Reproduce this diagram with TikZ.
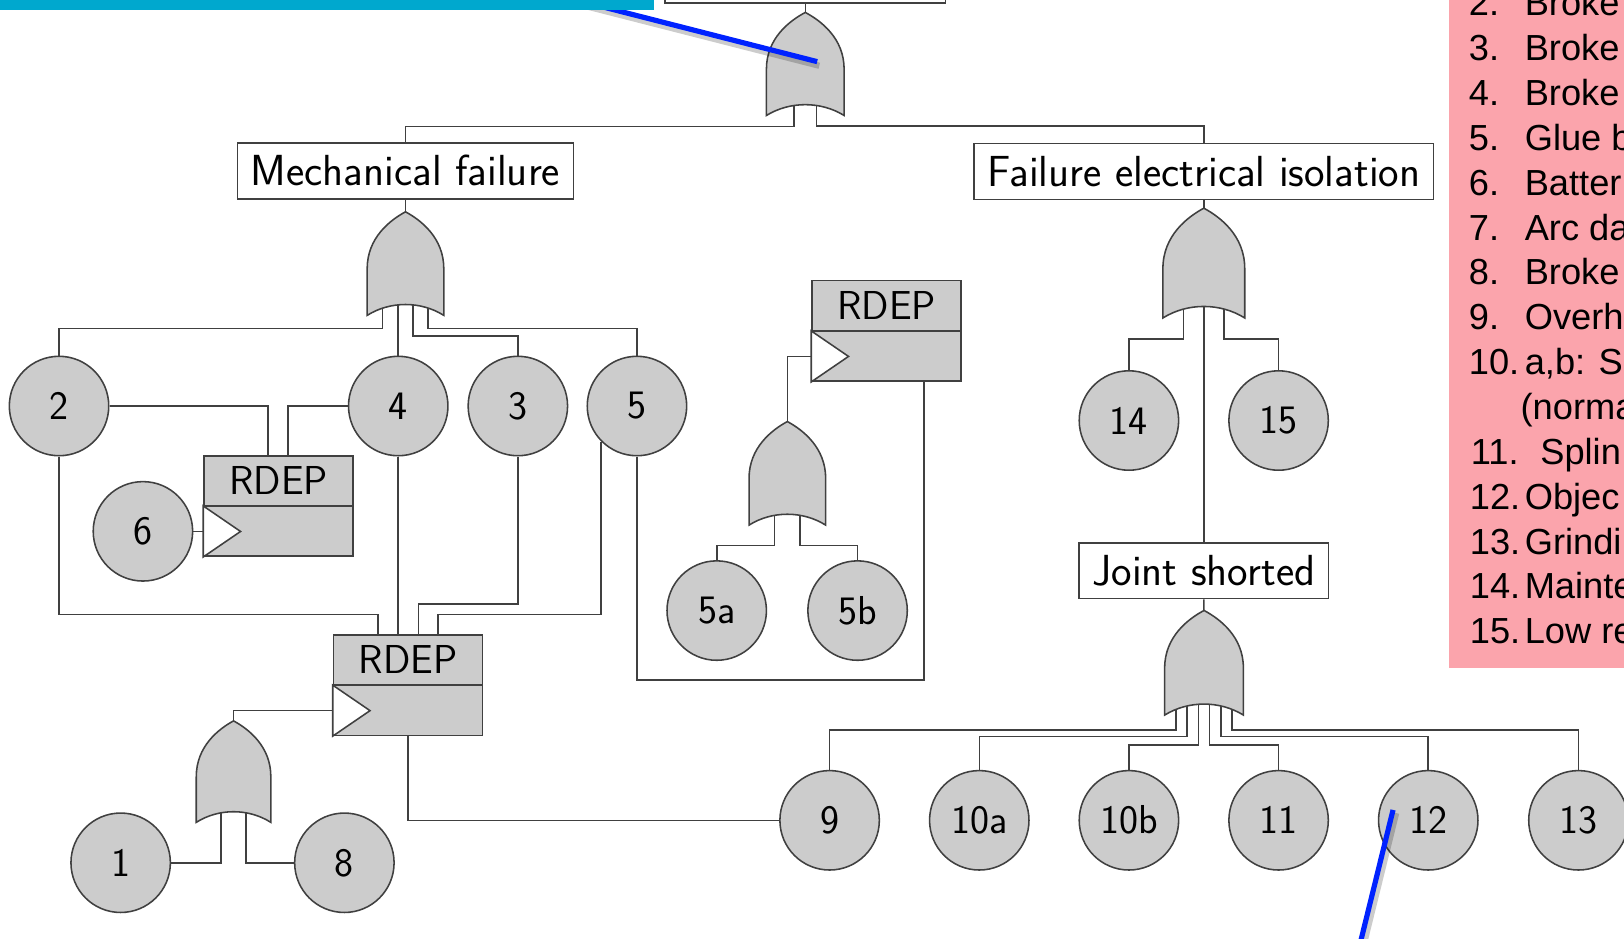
\documentclass[tikz,border=0pt]{standalone}
\usepackage{fontspec}
\newfontfamily\arialf{Liberation Sans}
\usetikzlibrary{calc}
\pgfdeclarelayer{bg}
\pgfsetlayers{bg,main}
\definecolor{linec}{RGB}{64,64,64}
\definecolor{gfill}{RGB}{204,204,204}
\definecolor{cyanbar}{RGB}{0,168,206}
\definecolor{pinkbox}{RGB}{251,164,172}
\definecolor{blueline}{RGB}{0,34,255}
\newcommand\evfont{\sffamily\fontsize{39}{44}\selectfont}
\newcommand\lbfont{\sffamily\fontsize{42}{46}\selectfont}
\newcommand\orgate[5]{%
  \begin{scope}[shift={(#2,#3)}]
  \path[gatestyle] ({-#4/2},0) -- ({-#4/2},{-0.45*#5})
     .. controls ({-#4/2},{-0.75*#5}) and ({-0.2*#4},{-0.92*#5}) .. (0,{-#5})
     .. controls ({0.2*#4},{-0.92*#5}) and ({#4/2},{-0.75*#5}) .. ({#4/2},{-0.45*#5})
     -- ({#4/2},0) .. controls ({0.2*#4},{-0.14*#5}) and ({-0.2*#4},{-0.14*#5}) .. cycle;
  \coordinate (#1) at (0,0);
  \coordinate (#1t) at (0,{-#5+4});
  \end{scope}}
\newcommand\rdepbox[3]{%
  \node[rdep] (#1) at (#2,#3) {};
  \draw[conn] (#1.west) -- (#1.east);
  \draw[conn, fill=white] (#1.west) -- ($(#1.south west)!0.5!(#1.west)+(36,0)$) -- (#1.south west) -- cycle;
  \node[font=\evfont, inner sep=0pt] (#1l) at ($(#1.north)!0.5!(#1.center)$) {RDEP};}
\begin{document}
\begin{tikzpicture}[x=1pt,y=-1pt,
  gatestyle/.style={fill=gfill, draw=linec, line width=1.5pt},
  evt/.style={circle, fill=gfill, draw=linec, line width=1.5pt, minimum size=96pt, inner sep=0pt, font=\evfont},
  lbox/.style={rectangle, draw=linec, fill=white, line width=1.5pt, minimum height=54pt, inner xsep=13pt, inner ysep=0pt, font=\lbfont},
  rdep/.style={rectangle, draw=linec, fill=gfill, line width=1.5pt, minimum width=144pt, minimum height=97pt, inner sep=0pt},
  conn/.style={draw=linec, line width=1.5pt},
  li/.style={font=\arialf\fontsize{35}{40}\selectfont, anchor=base west, inner sep=0pt},
  blue/.style={draw=blueline, line width=5pt},
  bshadow/.style={draw=black, opacity=0.2, line width=6pt}]
\useasboundingbox (0,0) rectangle (1568,906);
\clip (0,0) rectangle (1568,906);

% boxes
\node[rectangle, draw=linec, line width=1.5pt, minimum width=271pt, minimum height=60pt] (top) at (777.5,-27) {};
\node[lbox] (mech) at (391.5,165) {Mechanical failure};
\node[lbox] (elec) at (1162.3,165.5) {Failure electrical isolation};
\node[lbox] (joint) at (1162.3,551) {Joint shorted};

% gates
\orgate{g0}{777.5}{111.5}{75}{99.5}
\orgate{g1}{391.5}{304.5}{74}{100}
\orgate{g2}{1162.3}{307}{79}{106}
\orgate{g3}{760.2}{507}{74}{100}
\orgate{g4}{225.5}{794}{72}{98}
\orgate{g5}{1162.5}{690.4}{76}{101}

% RDEP
\rdepbox{rA}{269}{488.5}
\rdepbox{rB}{856}{319.5}
\rdepbox{rC}{394}{661.5}

% events
\node[evt] (c2) at (57,392) {2};
\node[evt] (c4) at (384.5,392) {4};
\node[evt] (c3) at (500,392) {3};
\node[evt] (c5) at (615,392) {5};
\node[evt] (c6) at (138,513) {6};
\node[evt] (c14) at (1090,406) {14};
\node[evt] (c15) at (1234.5,406) {15};
\node[evt] (c5a) at (692,589.5) {5a};
\node[evt] (c5b) at (828,589.5) {5b};
\node[evt] (c1) at (116.5,833) {1};
\node[evt] (c8) at (332.5,833) {8};
\node[evt] (c9) at (801,792) {9};
\node[evt] (c10a) at (945.5,792) {10a};
\node[evt] (c10b) at (1090,792) {10b};
\node[evt] (c11) at (1234.5,792) {11};
\node[evt] (c12) at (1379,792) {12};
\node[evt] (c13) at (1524,792) {13};

% gate input points
\coordinate (g0a) at ($(g0)+(-11,-15)$);
\coordinate (g0b) at ($(g0)+(11,-15)$);
\coordinate (g1a) at ($(g1)+(-22,-15)$);
\coordinate (g1b) at ($(g1)+(-7,-15)$);
\coordinate (g1c) at ($(g1)+(7,-15)$);
\coordinate (g1d) at ($(g1)+(22,-15)$);
\coordinate (g2a) at ($(g2)+(-19.7,-15)$);
\coordinate (g2b) at ($(g2)+(0,-15)$);
\coordinate (g2c) at ($(g2)+(19.7,-15)$);
\coordinate (g3a) at ($(g3)+(-12.3,-15)$);
\coordinate (g3b) at ($(g3)+(12.3,-15)$);
\coordinate (g4a) at ($(g4)+(-12,-15)$);
\coordinate (g4b) at ($(g4)+(12,-15)$);
\coordinate (g5a) at ($(g5)+(-27,-15)$);
\coordinate (g5b) at ($(g5)+(-16.2,-15)$);
\coordinate (g5c) at ($(g5)+(-5.4,-15)$);
\coordinate (g5d) at ($(g5)+(5.4,-15)$);
\coordinate (g5e) at ($(g5)+(16.2,-15)$);
\coordinate (g5f) at ($(g5)+(27,-15)$);

\begin{pgfonlayer}{bg}
\draw[conn] (top.south) -- (g0t);
\draw[conn] (g0a) |- ($(mech.north)+(0,-15)$) -- (mech.north);
\draw[conn] (g0b) |- ($(elec.north)+(0,-16)$) -- (elec.north);
\draw[conn] (mech.south) -- (g1t);
\draw[conn] (elec.south) -- (g2t);
\draw[conn] (g1a) |- ($(c2.north)+(0,-26)$) -- (c2.north);
\draw[conn] (g1b) -- (c4.north);
\draw[conn] (g1c) |- ($(c3.north)+(0,-19)$) -- (c3.north);
\draw[conn] (g1d) |- ($(c5.north)+(0,-26)$) -- (c5.north);
\draw[conn] (c2.east) -| ($(rA.north)+(-10,0)$);
\draw[conn] (c4.west) -| ($(rA.north)+(9,0)$);
\draw[conn] (c6.east) -- (c6.east -| rA.west);
\draw[conn] (c2.south) |- ($(rC.north)+(-29,-19)$) -- ($(rC.north)+(-29,0)$);
\draw[conn] (c4.south) -- (c4.south |- rC.north);
\draw[conn] (c3.south) |- ($(rC.north)+(10,-29)$) -- ($(rC.north)+(10,0)$);
\draw[conn] (c5.225) |- ($(rC.north)+(29,-19)$) -- ($(rC.north)+(29,0)$);
\draw[conn] (c5.south) -- ++(0,216) -| ($(rB.south)+(36,0)$);
\draw[conn] (g3t) |- ($(rB.south west)!0.5!(rB.west)$);
\draw[conn] (g3a) |- ($(c5a.north)+(0,-14)$) -- (c5a.north);
\draw[conn] (g3b) |- ($(c5b.north)+(0,-14)$) -- (c5b.north);
\draw[conn] (rC.south) |- (c9.west);
\draw[conn] (g4t) |- ($(rC.south west)!0.5!(rC.west)$);
\draw[conn] (g4a) |- (c1.east);
\draw[conn] (g4b) |- (c8.west);
\draw[conn] (g2a) |- ($(c14.north)+(0,-30)$) -- (c14.north);
\draw[conn] (g2b) -- (joint.north);
\draw[conn] (g2c) |- ($(c15.north)+(0,-30)$) -- (c15.north);
\draw[conn] (joint.south) -- (g5t);
\draw[conn] (g5a) |- ($(c9.north)+(0,-38.5)$) -- (c9.north);
\draw[conn] (g5b) |- ($(c10a.north)+(0,-32)$) -- (c10a.north);
\draw[conn] (g5c) |- ($(c10b.north)+(0,-23.7)$) -- (c10b.north);
\draw[conn] (g5d) |- ($(c11.north)+(0,-23.7)$) -- (c11.north);
\draw[conn] (g5e) |- ($(c12.north)+(0,-32)$) -- (c12.north);
\draw[conn] (g5f) |- ($(c13.north)+(0,-38.5)$) -- (c13.north);
\end{pgfonlayer}

% callout lines
\coordinate (bl1s) at (556,0);
\coordinate (bl1e) at (789,59.5);
\coordinate (bl2s) at (1345,782);
\coordinate (bl2e) at (1311,920);
\draw[bshadow] ($(bl1s)+(2,4)$) -- ($(bl1e)+(2,4)$);
\draw[blue] (bl1s) -- (bl1e);
\draw[bshadow] ($(bl2s)+(3,3)$) -- ($(bl2e)+(3,3)$);
\draw[blue] (bl2s) -- (bl2e);
\fill[cyanbar] (0,0) rectangle (631,9.7);

% legend
\fill[pinkbox] (1399,0) rectangle (1568,645);
\foreach \k/\num/\nx/\txt/\tx in {0/2./1418/Broke/1472, 1/3./1418/Broke/1472, 2/4./1418/Broke/1472,
  3/5./1418/Glue b/1472, 4/6./1418/Batter/1472, 5/7./1418/Arc da/1472, 6/8./1418/Broke/1472,
  7/9./1418/Overh/1472, 8/10./1418/{a,b: S}/1472, 10/11./1420/Splin/1487,
  11/12./1419/Objec/1472, 12/13./1419/Grindi/1472, 13/14./1419/Mainte/1472, 14/15./1419/Low re/1472}{
  \node[li] (n\k) at (\nx,{15.3+43.3*\k}) {\num};
  \node[li] (t\k) at (\tx,{15.3+43.3*\k}) {\txt};
}
\node[li] (t9) at (1468,{15.3+43.3*9}) {(norma};
\end{tikzpicture}
\end{document}
